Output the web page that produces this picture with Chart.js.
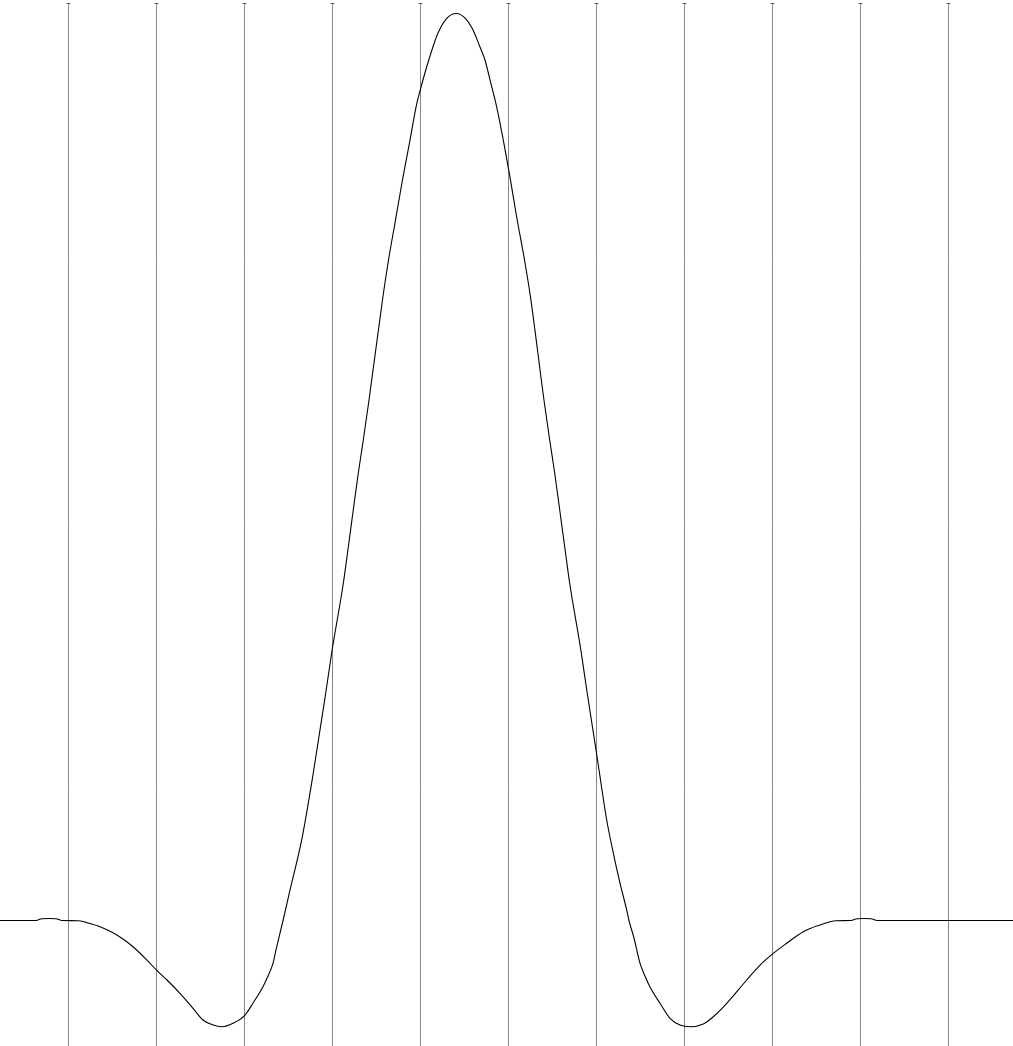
<!DOCTYPE html>
<html>
<head>
<meta charset="utf-8">
<script src="https://cdn.jsdelivr.net/npm/chart.js@4/dist/chart.umd.min.js"></script>
<style>
  html, body { margin: 0; padding: 0; background: #ffffff; }
  #c { display: block; }
</style>
</head>
<body>
<canvas id="c" width="1013" height="1046"></canvas>
<script>
// Grid positions (x units: one grid step = 1)
const gridTicks = [0, 1, 2, 3, 4, 5, 6, 7, 8, 9, 10];

// Curve samples (x in grid steps, y normalised to the peak)
const curveX = [
  -0.778, -0.369, -0.301, -0.222, -0.142, -0.074, 0.108, 0.210, 0.358, 0.506,
  0.619, 0.733, 0.892, 1.006, 1.119, 1.267, 1.415, 1.528, 1.642, 1.744,
  1.869, 2.006, 2.097, 2.210, 2.267, 2.324, 2.358, 2.438, 2.517, 2.650,
  2.778, 2.923, 2.994, 3.123, 3.180, 3.236, 3.293, 3.350, 3.415, 3.568,
  3.631, 3.722, 3.801, 3.881, 3.949, 4.028, 4.108, 4.199, 4.301,
  4.409,
  4.517, 4.597, 4.676, 4.733, 4.790, 4.866, 4.941, 5.017, 5.093, 5.188, 5.252,
  5.403, 5.468, 5.525, 5.582, 5.639, 5.695, 5.824, 5.889, 6.000, 6.116,
  6.191, 6.267, 6.343, 6.369, 6.426, 6.494, 6.551, 6.608, 6.722, 6.835,
  6.949, 7.063, 7.214, 7.327, 7.480, 7.707, 7.858, 8.009, 8.161, 8.350,
  8.540, 8.722, 8.892, 8.960, 9.040, 9.119, 9.188, 10.733
];
const curveY = [
  0, 0, 0.0020, 0.0022, 0.0020, 0, -0.0002, -0.0024, -0.0068, -0.0135,
  -0.0204, -0.0289, -0.0436, -0.0553, -0.0656, -0.0803, -0.0968, -0.1097, -0.1152, -0.1171,
  -0.1133, -0.1042, -0.0910, -0.0730, -0.0612, -0.0472, -0.0325, 0.0000, 0.0336, 0.0888,
  0.1604, 0.2508, 0.2971, 0.3718, 0.4121, 0.4526, 0.4931, 0.5298, 0.5739, 0.6841,
  0.7249, 0.7756, 0.8197, 0.8605, 0.8969, 0.9267, 0.9531, 0.9785, 0.9950,
  1.0000,
  0.9939, 0.9818, 0.9631, 0.9487, 0.9267, 0.8969, 0.8605, 0.8197, 0.7756, 0.7249, 0.6860,
  0.5739, 0.5298, 0.4934, 0.4526, 0.4118, 0.3721, 0.2971, 0.2541, 0.1847, 0.1108,
  0.0744, 0.0413, 0.0116, 0.0000, -0.0193, -0.0469, -0.0612, -0.0733, -0.0913, -0.1078,
  -0.1152, -0.1171, -0.1141, -0.1061, -0.0913, -0.0656, -0.0491, -0.0362, -0.0251, -0.0123,
  -0.0050, -0.0002, 0, 0.0020, 0.0022, 0.0020, 0, 0
];

// Axis ranges
const xMin = -0.7784, xMax = 10.733;
const yMin = -0.13837, yMax = 1.01158;

const points = curveX.map((x, i) => ({ x: x, y: curveY[i] }));

const capPlugin = {
  id: 'gridCaps',
  afterDraw(chart) {
    const xs = chart.scales.x;
    const top = chart.chartArea.top;
    const ctx = chart.ctx;
    ctx.save();
    ctx.strokeStyle = '#606060';
    ctx.lineWidth = 1;
    xs.ticks.forEach((t, i) => {
      const px = Math.round(xs.getPixelForTick(i)) + 0.5;
      ctx.beginPath();
      ctx.moveTo(px - 2, top + 0.5);
      ctx.lineTo(px + 2, top + 0.5);
      ctx.stroke();
    });
    ctx.restore();
  }
};

new Chart(document.getElementById('c'), {
  type: 'line',
  data: {
    datasets: [{
      data: points,
      borderColor: '#000000',
      borderWidth: 1.1,
      pointRadius: 0,
      fill: false,
      cubicInterpolationMode: 'monotone'
    }]
  },
  options: {
    responsive: false,
    animation: false,
    events: [],
    layout: { padding: { top: 3, left: 0, right: 0, bottom: 0 } },
    plugins: { legend: { display: false }, tooltip: { enabled: false } },
    scales: {
      x: {
        type: 'linear',
        min: xMin,
        max: xMax,
        afterBuildTicks: (scale) => { scale.ticks = gridTicks.map(v => ({ value: v })); },
        grid: { color: '#858585', lineWidth: 1, drawTicks: false },
        border: { display: false },
        ticks: { display: false }
      },
      y: {
        type: 'linear',
        display: false,
        min: yMin,
        max: yMax
      }
    }
  },
  plugins: [capPlugin]
});
</script>
</body>
</html>
